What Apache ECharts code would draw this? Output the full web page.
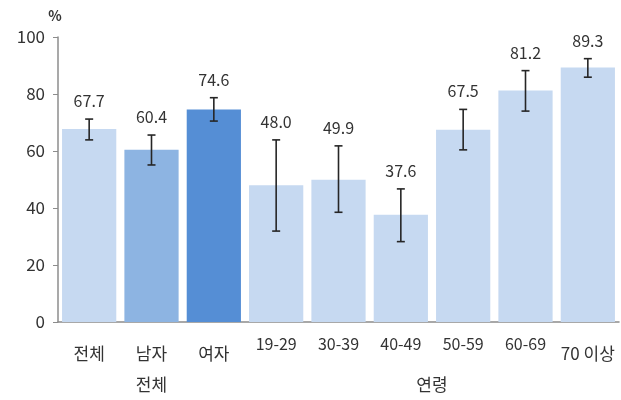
<!DOCTYPE html>
<html><head><meta charset="utf-8">
<script src="https://cdn.jsdelivr.net/npm/echarts@6/dist/echarts.min.js"></script>
<style>html,body{margin:0;padding:0;background:#fff}#c{width:621px;height:400px}</style>
</head><body><div id="c"></div>
<script>
const categories = ['전체','남자','여자','19-29','30-39','40-49','50-59','60-69','70 이상'];
const values = [67.7, 60.4, 74.6, 48.0, 49.9, 37.6, 67.5, 81.2, 89.3];
const lower = [63.9, 55.1, 70.5, 31.9, 38.5, 28.2, 60.4, 74.0, 85.9];
const upper = [71.2, 65.6, 78.7, 63.9, 61.8, 46.7, 74.6, 88.2, 92.4];
const barColors = ['#c6d9f1','#8db4e2','#558ed5','#c6d9f1','#c6d9f1','#c6d9f1','#c6d9f1','#c6d9f1','#c6d9f1'];
const yTicks = [0, 20, 40, 60, 80, 100];
const groups = [{name:'전체', from:1, to:1}, {name:'연령', from:3, to:8}];

const chart = echarts.init(document.getElementById('c'), null, {renderer:'canvas'});
const font = '"Noto Sans CJK KR", "Noto Sans", sans-serif';
const txt = '#333333';
chart.setOption({
  animation:false,
  grid:{left:58, right:2, top:37, bottom:78},
  xAxis:{type:'category', data:categories,
    axisLine:{lineStyle:{color:'#8c8c8c', width:1.5}}, axisTick:{show:false},
    axisLabel:{color:txt, fontSize:16, fontFamily:font, margin:14, interval:0,
      formatter:function(v){ return /[\uac00-\ud7a3]/.test(v) ? '{k|' + v + '}' : '{n|' + v + '}'; },
      rich:{k:{fontSize:17, fontFamily:font, color:txt, padding:[9,0,0,0]}, n:{fontSize:16, fontFamily:font, color:txt}}}},
  yAxis:{type:'value', min:0, max:100, interval:20,
    axisLine:{show:true, lineStyle:{color:'#8c8c8c', width:1.5}},
    axisTick:{show:true, inside:false, length:5, lineStyle:{color:'#8c8c8c'}},
    splitLine:{show:false},
    axisLabel:{color:txt, fontSize:17, fontFamily:font, margin:13}},
  series:[
    {type:'bar', data:values.map((v,i)=>({value:v, itemStyle:{color:barColors[i]}})),
     barCategoryGap:'13%'},
    {type:'custom', data:values.map((v,i)=>[i, lower[i], upper[i], v]),
     renderItem:function(params, api){
       const x = api.value(0);
       const lo = api.coord([x, api.value(1)]);
       const hi = api.coord([x, api.value(2)]);
       const hw = 4;
       const st = {stroke:'#262626', lineWidth:1.6};
       return {type:'group', children:[
         {type:'line', shape:{x1:lo[0], y1:lo[1], x2:hi[0], y2:hi[1]}, style:st},
         {type:'line', shape:{x1:lo[0]-hw, y1:lo[1], x2:lo[0]+hw, y2:lo[1]}, style:st},
         {type:'line', shape:{x1:hi[0]-hw, y1:hi[1], x2:hi[0]+hw, y2:hi[1]}, style:st},
         {type:'text', x:hi[0], y:hi[1]-18, style:{text:api.value(3).toFixed(1), fill:txt,
           font:'16px ' + font, align:'center', verticalAlign:'middle'}}
       ]};
     }, z:5}
  ]
});
const g = groups.map(gr=>{
  const a = chart.convertToPixel({xAxisIndex:0}, gr.from);
  const b = chart.convertToPixel({xAxisIndex:0}, gr.to);
  const y0 = chart.convertToPixel({yAxisIndex:0}, 0);
  return {type:'text', x:(a+b)/2, y:y0+63, style:{text:gr.name, fill:txt, font:'17px ' + font, align:'center', verticalAlign:'middle'}};
});
chart.setOption({graphic:[{type:'text', x:55, y:16, style:{text:'%', fill:txt, font:'bold 14px ' + font, align:'center', verticalAlign:'middle'}}].concat(g)});
</script></body></html>
